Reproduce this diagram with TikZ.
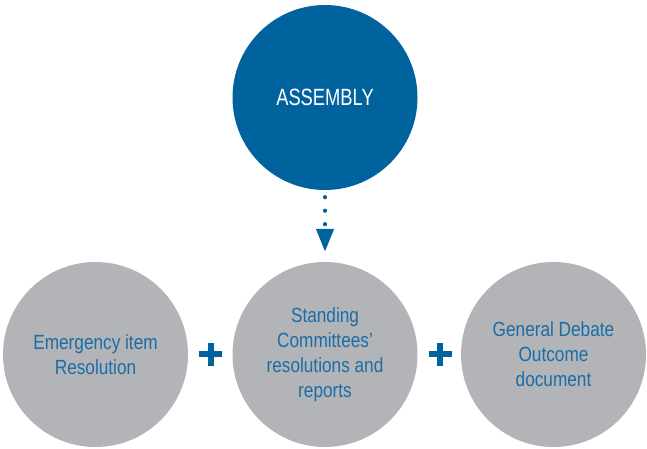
\documentclass[tikz,border=0pt]{standalone}
\usepackage{xcolor}
\usepackage{fontspec}
\setmainfont[FakeStretch=0.84]{Liberation Sans}
\newfontfamily\titlefont[FakeStretch=0.78]{Liberation Sans}
\usetikzlibrary{arrows.meta}
\definecolor{asmblue}{HTML}{00639E}
\definecolor{txtblue}{HTML}{1A6DA5}
\definecolor{discgray}{HTML}{B2B4B8}
\tikzset{
  disc/.style={circle,fill=discgray,draw=none,minimum size=185pt,inner sep=0pt,
    align=center,text=txtblue,font=\fontsize{20.5}{25}\selectfont},
  plussign/.pic={\fill[asmblue] (-11.5,-3) rectangle (11.5,3);
    \fill[asmblue] (-3,-11.5) rectangle (3,11.5);}
}

\begin{document}
\begin{tikzpicture}[x=1pt,y=1pt]
		\useasboundingbox (0,0) rectangle (647,448);
		\node[circle,fill=asmblue,minimum size=185pt,inner sep=0pt,text=white,
		  font=\titlefont\fontsize{23.5}{28}\selectfont] (assembly) at (325,350.5) {ASSEMBLY};
		\node[disc] (emergency) at (95.5,93.5) {Emergency item\\Resolution};
		\node[disc] (standing) at (325,93.5) {Standing\\Committees’\\resolutions and\\reports};
		\node[disc] (debate) at (553.5,93.5) {General Debate\\Outcome\\document};
		\draw[asmblue,line width=4.2pt,line cap=round,dash pattern=on 0pt off 13.5pt,
		  shorten <=7pt,shorten >=10pt,-{Triangle[width=17pt,length=23pt,line cap=butt]}]
		  (assembly.south)--(standing.north);
		\pic at (210.5,94) {plussign};
		\pic at (440,94) {plussign};
		\end{tikzpicture}
\end{document}
